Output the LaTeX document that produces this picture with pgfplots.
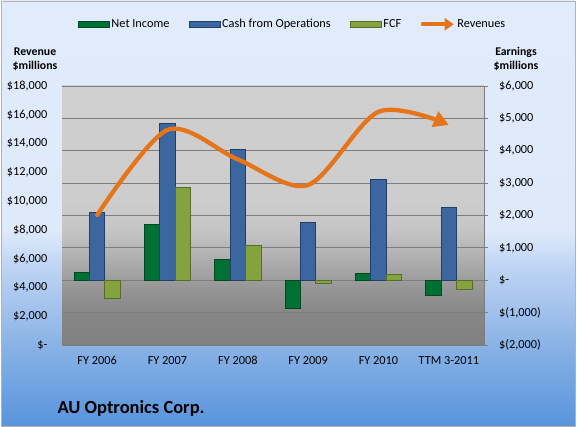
\documentclass[border=0pt]{standalone}
\usepackage{fontspec}
\setmainfont{Carlito}
\usepackage{pgfplots}
\usepackage{pgfplotstable}
\pgfplotsset{compat=1.18}
\usetikzlibrary{arrows.meta}

\definecolor{niG}{RGB}{0,112,52}
\definecolor{niD}{RGB}{0,72,34}
\definecolor{cfoB}{RGB}{60,102,160}
\definecolor{cfoD}{RGB}{36,62,104}
\definecolor{fcfG}{RGB}{132,162,62}
\definecolor{fcfD}{RGB}{86,108,40}
\definecolor{revO}{RGB}{230,116,24}
\definecolor{gridC}{RGB}{125,125,125}

\definecolor{cbA}{RGB}{88,148,220}
\definecolor{cbB}{RGB}{140,180,230}
\definecolor{cbC}{RGB}{192,213,244}
\definecolor{cbD}{RGB}{222,234,250}
\definecolor{cbE}{RGB}{224,236,251}
\pgfdeclareverticalshading{chartbg}{100bp}{color(0bp)=(cbA); color(25bp)=(cbA); color(35bp)=(cbB); color(44bp)=(cbC); color(48bp)=(cbD); color(75bp)=(cbE); color(100bp)=(cbE)}

\definecolor{pA}{RGB}{128,128,128}
\definecolor{pB}{RGB}{134,134,134}
\definecolor{pC}{RGB}{150,150,150}
\definecolor{pD}{RGB}{176,176,176}
\definecolor{pE}{RGB}{196,196,196}
\definecolor{pF}{RGB}{205,205,205}
\definecolor{pG}{RGB}{207,207,207}
\pgfdeclareverticalshading{plotbg}{100bp}{color(0bp)=(pA); color(25bp)=(pA); color(31bp)=(pB); color(36bp)=(pC); color(42bp)=(pD); color(47bp)=(pE); color(53bp)=(pF); color(75bp)=(pG); color(100bp)=(pG)}

\pgfplotstableread{
x ni cfo fcf rev
0 250 2090 -570 9030
1 1735 4850 2875 14950
2 630 4030 1065 12900
3 -860 1785 -110 11120
4 220 3120 190 16210
5 -470 2250 -270 15290
}\datatable

\begin{document}
\begin{tikzpicture}[x=1pt,y=1pt,font=\fontsize{12.3}{14.5}\selectfont]
\useasboundingbox (0,0) rectangle (577,427);
\fill[white] (0,0) rectangle (577,427);
\shade[shading=chartbg] (1,1) rectangle (575,426);
\draw[gray!60, line width=0.8pt] (1,1) rectangle (575,426);

% Bars on the right (earnings) axis
\begin{axis}[
  at={(62pt,82pt)}, anchor=south west,
  width=422pt, height=259pt, scale only axis,
  xmin=-0.5, xmax=5.5, ymin=-2000, ymax=6000,
  axis y line*=right, axis x line*=bottom,
  x axis line style={draw=none},
  y axis line style={draw=gridC, line width=0.8pt},
  xtick=\empty, scaled y ticks=false,
  ytick={-2000,-1000,0,1000,2000,3000,4000,5000,6000},
  yticklabels={{\$(2,000)},{\$(1,000)},{\$-},{\$1,000},{\$2,000},{\$3,000},{\$4,000},{\$5,000},{\$6,000}},
  tick align=outside, major tick length=4pt,
  tick style={draw=gridC, line width=0.8pt},
  yticklabel style={inner sep=0pt, anchor=west, xshift=11pt},
  ymajorgrids, grid style={draw=gridC, line width=0.8pt},
  axis background/.style={shade, shading=plotbg},
  ybar=0pt, bar width=15.4pt,
]
\addplot[fill=niG, draw=niD, line width=0.8pt] table[x=x,y=ni] {\datatable};
\addplot[fill=cfoB, draw=cfoD, line width=0.8pt] table[x=x,y=cfo] {\datatable};
\addplot[fill=fcfG, draw=fcfD, line width=0.8pt] table[x=x,y=fcf] {\datatable};
\end{axis}

% Revenue line on the left axis
\begin{axis}[
  at={(62pt,82pt)}, anchor=south west,
  width=422pt, height=259pt, scale only axis,
  xmin=-0.5, xmax=5.5, ymin=0, ymax=18000,
  axis y line*=left, axis x line*=bottom,
  x axis line style={draw=none}, y axis line style={draw=none},
  major tick length=0pt, scaled y ticks=false,
  xtick={0,1,2,3,4,5},
  xticklabels={FY 2006,FY 2007,FY 2008,FY 2009,FY 2010,TTM 3-2011},
  xticklabel style={inner sep=0pt, anchor=north, yshift=-11pt},
  ytick={0,2000,4000,6000,8000,10000,12000,14000,16000,18000},
  yticklabels={{\$-},{\$2,000},{\$4,000},{\$6,000},{\$8,000},{\$10,000},{\$12,000},{\$14,000},{\$16,000},{\$18,000}},
  yticklabel style={inner sep=0pt, anchor=east, xshift=-14.5pt},
  legend columns=4,
  legend style={draw=none, fill=none, inner sep=0pt, outer sep=0pt,
    at={(0.0386,1.2382)}, anchor=west,
    nodes={inner sep=0pt},
    /tikz/every odd column/.append style={column sep=1.6pt},
    /tikz/every even column/.append style={column sep=19.5pt}},
]
\addlegendimage{legend image code/.code={\draw[fill=niG, draw=niD, line width=0.6pt] (0pt,-2.7pt) rectangle (31pt,2.7pt);}}
\addlegendentry{Net Income}
\addlegendimage{legend image code/.code={\draw[fill=cfoB, draw=cfoD, line width=0.6pt] (0pt,-2.7pt) rectangle (31pt,2.7pt);}}
\addlegendentry{Cash from Operations}
\addlegendimage{legend image code/.code={\draw[fill=fcfG, draw=fcfD, line width=0.6pt] (0pt,-2.7pt) rectangle (31pt,2.7pt);}}
\addlegendentry{FCF}
\addplot[revO, line width=4.3pt, smooth, line cap=round,
  -{Triangle[length=15pt,width=16pt]},
  legend image code/.code={\draw[revO, line width=4pt, -{Triangle[length=9pt,width=12pt]}] (0pt,0pt) -- (31pt,0pt);}]
  table[x=x,y=rev] {\datatable};
\addlegendentry{Revenues}
\end{axis}

\node[anchor=base, inner sep=0pt, font=\fontsize{11.8}{14}\selectfont\bfseries] at (35,371.3) {Revenue};
\node[anchor=base, inner sep=0pt, font=\fontsize{11.8}{14}\selectfont\bfseries] at (35,357) {\$millions};
\node[anchor=base, inner sep=0pt, font=\fontsize{11.8}{14}\selectfont\bfseries] at (516,371.3) {Earnings};
\node[anchor=base, inner sep=0pt, font=\fontsize{11.8}{14}\selectfont\bfseries] at (516,357) {\$millions};
\node[anchor=base west, inner sep=0pt, font=\fontsize{18.5}{22}\selectfont\bfseries] at (57.3,13.7) {AU Optronics Corp.};
\end{tikzpicture}
\end{document}
